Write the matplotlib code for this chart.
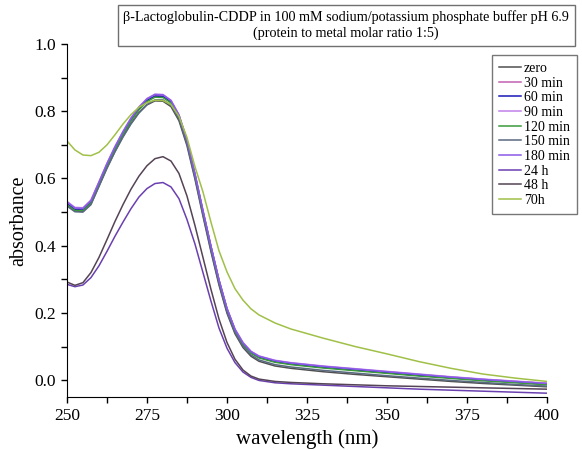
import matplotlib
matplotlib.use("Agg")
import matplotlib.pyplot as plt
from matplotlib.ticker import MultipleLocator

plt.rcParams["font.family"] = ["Liberation Serif", "DejaVu Serif"]

# wavelength grid (nm)
wavelength = [250, 252.5, 255, 257.5, 260, 262.5, 265, 267.5, 270, 272.5,
              275, 277.5, 280, 282.5, 285, 287.5, 290, 292.5, 295, 297.5,
              300, 302.5, 305, 307.5, 310, 315, 320, 330, 340, 350,
              360, 370, 380, 390, 400]

zero = [0.520, 0.503, 0.502, 0.524, 0.578, 0.632, 0.681, 0.725, 0.764, 0.796,
        0.819, 0.831, 0.830, 0.814, 0.772, 0.698, 0.598, 0.488, 0.382, 0.283,
        0.199, 0.138, 0.097, 0.071, 0.056, 0.042, 0.035, 0.025, 0.017, 0.010,
        0.003, -0.004, -0.010, -0.015, -0.020]
min30 = [0.528, 0.510, 0.509, 0.532, 0.587, 0.642, 0.692, 0.737, 0.777, 0.810,
         0.835, 0.848, 0.847, 0.830, 0.787, 0.712, 0.612, 0.502, 0.397, 0.297,
         0.212, 0.150, 0.110, 0.084, 0.070, 0.057, 0.050, 0.040, 0.032, 0.024,
         0.016, 0.009, 0.002, -0.004, -0.010]
min60 = [0.525, 0.507, 0.506, 0.529, 0.584, 0.639, 0.689, 0.734, 0.774, 0.807,
         0.832, 0.845, 0.844, 0.827, 0.785, 0.711, 0.611, 0.502, 0.397, 0.297,
         0.212, 0.149, 0.108, 0.082, 0.068, 0.055, 0.048, 0.038, 0.030, 0.022,
         0.014, 0.007, 0.000, -0.006, -0.012]
min90 = [0.532, 0.514, 0.513, 0.536, 0.590, 0.645, 0.695, 0.740, 0.780, 0.813,
         0.838, 0.851, 0.850, 0.833, 0.790, 0.715, 0.615, 0.505, 0.399, 0.299,
         0.214, 0.152, 0.112, 0.086, 0.072, 0.059, 0.052, 0.042, 0.034, 0.026,
         0.018, 0.010, 0.003, -0.003, -0.009]
min120 = [0.522, 0.505, 0.504, 0.527, 0.581, 0.636, 0.686, 0.731, 0.771, 0.804,
          0.829, 0.842, 0.841, 0.825, 0.783, 0.709, 0.609, 0.500, 0.395, 0.295,
          0.210, 0.147, 0.106, 0.080, 0.066, 0.053, 0.046, 0.036, 0.028, 0.020,
          0.012, 0.005, -0.002, -0.008, -0.014]
min150 = [0.518, 0.501, 0.500, 0.522, 0.576, 0.630, 0.679, 0.723, 0.762, 0.795,
          0.820, 0.834, 0.834, 0.818, 0.777, 0.703, 0.603, 0.493, 0.387, 0.288,
          0.203, 0.142, 0.101, 0.075, 0.060, 0.046, 0.039, 0.029, 0.021, 0.013,
          0.006, -0.001, -0.007, -0.013, -0.018]
min180 = [0.530, 0.512, 0.511, 0.534, 0.589, 0.644, 0.694, 0.739, 0.779, 0.812,
          0.837, 0.850, 0.849, 0.832, 0.789, 0.714, 0.614, 0.504, 0.398, 0.298,
          0.213, 0.151, 0.111, 0.085, 0.071, 0.058, 0.051, 0.041, 0.033, 0.025,
          0.017, 0.009, 0.002, -0.004, -0.010]
h24 = [0.285, 0.278, 0.283, 0.305, 0.340, 0.383, 0.428, 0.470, 0.510, 0.545,
       0.570, 0.585, 0.588, 0.575, 0.540, 0.478, 0.405, 0.320, 0.235, 0.155,
       0.095, 0.052, 0.024, 0.008, -0.001, -0.008, -0.011, -0.015, -0.019, -0.023,
       -0.027, -0.030, -0.033, -0.036, -0.039]
h48 = [0.292, 0.282, 0.290, 0.320, 0.365, 0.418, 0.472, 0.522, 0.568, 0.607,
       0.638, 0.659, 0.665, 0.652, 0.615, 0.548, 0.460, 0.365, 0.270, 0.182,
       0.112, 0.062, 0.030, 0.012, 0.003, -0.004, -0.007, -0.011, -0.014, -0.017,
       -0.019, -0.021, -0.023, -0.025, -0.027]
h70 = [0.712, 0.685, 0.670, 0.668, 0.678, 0.700, 0.730, 0.762, 0.790, 0.812,
       0.826, 0.833, 0.832, 0.820, 0.785, 0.722, 0.635, 0.560, 0.470, 0.385,
       0.322, 0.272, 0.238, 0.212, 0.194, 0.170, 0.152, 0.125, 0.100, 0.078,
       0.055, 0.035, 0.018, 0.006, -0.004]

labels = ["zero", "30 min", "60 min", "90 min", "120 min", "150 min",
          "180 min", "24 h", "48 h", "70h"]
series = [zero, min30, min60, min90, min120, min150, min180, h24, h48, h70]
colors = ["#505050", "#c060b0", "#1818b8", "#c080e8", "#3a9a3a", "#5a6a80",
          "#8a5ae8", "#6a40b0", "#554455", "#a0c048"]

fig = plt.figure(figsize=(5.82, 4.5), dpi=100)
ax = fig.add_axes([0.115, 0.118, 0.825, 0.784])

for y, lab, c in zip(series, labels, colors):
    ax.plot(wavelength, y, color=c, lw=1.1, label=lab)

ax.set_xlim(250, 400)
ax.set_ylim(-0.05, 1.0)
ax.xaxis.set_major_locator(MultipleLocator(25))
ax.xaxis.set_minor_locator(MultipleLocator(12.5))
ax.yaxis.set_major_locator(MultipleLocator(0.2))
ax.yaxis.set_minor_locator(MultipleLocator(0.1))
ax.yaxis.set_major_formatter(plt.FormatStrFormatter("%.1f"))
ax.tick_params(which="both", direction="out", length=4.5, width=1, labelsize=12.5)
ax.spines["top"].set_visible(False)
ax.spines["right"].set_visible(False)
ax.set_xlabel("wavelength (nm)", fontsize=15)
ax.set_ylabel("absorbance", fontsize=14.5)

# boxed title
fig.text(0.595, 0.944,
         "β-Lactoglobulin-CDDP in 100 mM sodium/potassium phosphate buffer pH 6.9\n"
         "(protein to metal molar ratio 1:5)",
         ha="center", va="center", fontsize=10.2, linespacing=1.2,
         bbox=dict(boxstyle="square,pad=0.4", fc="white", ec="#707070", lw=1))

leg = ax.legend(loc="upper right", bbox_to_anchor=(0.991, 0.878),
                bbox_transform=fig.transFigure, borderaxespad=0,
                fontsize=10, frameon=True, fancybox=False,
                edgecolor="#555555", handlelength=1.6, handletextpad=0.2,
                labelspacing=0.12, borderpad=0.5)
leg.get_frame().set_linewidth(1)

fig.savefig("out.png", dpi=100)
